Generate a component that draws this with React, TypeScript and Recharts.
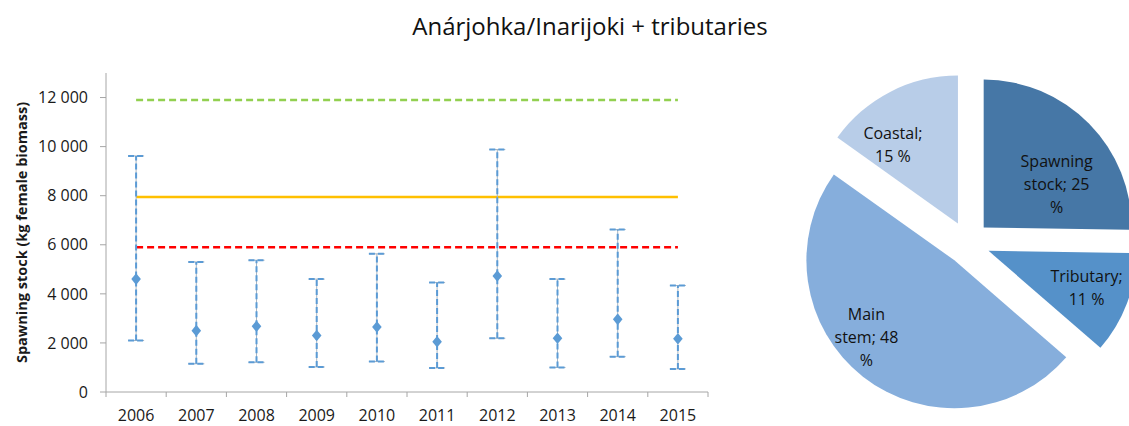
import React from 'react';
import { ComposedChart, Line, XAxis, YAxis, ErrorBar, PieChart, Pie, Cell } from 'recharts';

// ---------- data ----------
const years = ['2006', '2007', '2008', '2009', '2010', '2011', '2012', '2013', '2014', '2015'];
const spawningStock = [4600, 2500, 2680, 2300, 2650, 2050, 4730, 2190, 2960, 2170];
const lowerBound = [2100, 1150, 1210, 1020, 1240, 980, 2190, 1000, 1440, 940];
const upperBound = [9620, 5300, 5370, 4600, 5630, 4460, 9880, 4600, 6620, 4340];
const greenLevel = 11900;
const orangeLevel = 7950;
const redLevel = 5900;
const yTicks = [0, 2000, 4000, 6000, 8000, 10000, 12000];
const yMax = 13000;

const pieNames = ['Spawning stock', 'Tributary', 'Main stem', 'Coastal'];
const pieValues = [25, 11, 48, 15];
const pieColors = ['#4677A6', '#5591C9', '#86AEDC', '#B8CDE8'];

const title = 'Anárjohka/Inarijoki + tributaries';
const yLabel = 'Spawning stock (kg female biomass)';

// ---------- layout ----------
const FONT = '"Open Sans", "Noto Sans", sans-serif';
const CHART_W = 720;
const CHART_H = 426;
const MARGIN = { top: 73, right: 12, bottom: 4, left: 40 };
const Y_W = 66;
const X_H = 30;
const PLOT_W = CHART_W - MARGIN.left - MARGIN.right - Y_W;
const TICK_SIZE = 5;
const TICK_MARGIN = 2;
const AXIS_COLOR = '#A6A6A6';
const BLUE = '#5B9BD5';
const TICK_FONT = 16;

const tableData = years.map((year, i) => ({
  year,
  value: spawningStock[i],
  err: [spawningStock[i] - lowerBound[i], upperBound[i] - spawningStock[i]],
  green: greenLevel,
  orange: orangeLevel,
  red: redLevel,
}));

const fmt = (v: number) => String(v).replace(/\B(?=(\d{3})+(?!\d))/g, ' ');

const XTick = (props: any) => {
  const { x, y, payload, index } = props;
  const step = PLOT_W / years.length;
  const axisY = y - TICK_SIZE - TICK_MARGIN;
  return (
    <g>
      <line x1={x - step / 2} x2={x - step / 2} y1={axisY} y2={axisY + TICK_SIZE} stroke={AXIS_COLOR} strokeWidth={1} />
      {index === years.length - 1 && (
        <line x1={x + step / 2} x2={x + step / 2} y1={axisY} y2={axisY + TICK_SIZE} stroke={AXIS_COLOR} strokeWidth={1} />
      )}
      <text x={x} y={y + 22} textAnchor="middle" fontSize={TICK_FONT} fill="#1a1a1a" fontFamily={FONT}>
        {payload.value}
      </text>
    </g>
  );
};

const Diamond = (props: any) => {
  const { cx, cy } = props;
  if (cx == null || cy == null) return null;
  const w = 4.8;
  const h = 5.8;
  return <path d={`M${cx},${cy - h}L${cx + w},${cy}L${cx},${cy + h}L${cx - w},${cy}Z`} fill={BLUE} stroke="none" />;
};

const YLabel = (props: any) => {
  const vb = props.viewBox || {};
  const cy = (vb.y || 0) + (vb.height || 0) / 2;
  const cx = 21;
  return (
    <text
      x={cx}
      y={cy}
      transform={`rotate(-90 ${cx} ${cy})`}
      textAnchor="middle"
      dominantBaseline="central"
      fontSize={14.5}
      fontWeight="bold"
      fill="#1a1a1a"
      fontFamily={FONT}
    >
      {yLabel}
    </text>
  );
};

// ---------- pie ----------
const PIE_W = 369;
const PIE_H = 426;
const PIE_CX = 208;
const PIE_CY = 243;
const PIE_R = 148;
const EXPLODE = 22;
const RAD = Math.PI / 180;
const pieTotal = pieValues.reduce((a, b) => a + b, 0);
const pieData = pieNames.map((name, i) => ({ name, value: pieValues[i] }));
// label centre offsets from each slice's apex (text placement only)
const labelOffsets = [
  [73, -44],
  [98, 37],
  [-88, 77],
  [-65, -79],
];

// mid angle in recharts convention (start 90, clockwise)
const midAngles = pieValues.map((v, i) => {
  const before = pieValues.slice(0, i).reduce((a, b) => a + b, 0);
  return 90 - ((before + v / 2) / pieTotal) * 360;
});

const wrap = (text: string, max: number) => {
  const words = text.split(' ');
  const lines: string[] = [];
  let cur = '';
  words.forEach((w) => {
    if (!cur) cur = w;
    else if ((cur + ' ' + w).length <= max) cur = cur + ' ' + w;
    else {
      lines.push(cur);
      cur = w;
    }
  });
  if (cur) lines.push(cur);
  return lines;
};

const makeLabel = (slice: number) => (props: any) => {
  const { cx, cy, index, name, value } = props;
  if (index !== slice) return null;
  const x = cx + labelOffsets[slice][0];
  const y = cy + labelOffsets[slice][1];
  const lines = wrap(`${name}; ${value} %`, 9);
  const lh = 23;
  const y0 = y - ((lines.length - 1) * lh) / 2;
  return (
    <text x={x} y={y0} textAnchor="middle" dominantBaseline="central" fontSize={16} fill="#111" fontFamily={FONT}>
      {lines.map((l, k) => (
        <tspan key={k} x={x} y={y0 + k * lh}>
          {l}
        </tspan>
      ))}
    </text>
  );
};

export default function App() {
  return (
    <div
      style={{
        position: 'absolute',
        left: 0,
        top: 0,
        width: 1129,
        height: 426,
        background: '#fff',
        fontFamily: FONT,
        overflow: 'hidden',
      }}
    >
      <div
        style={{
          position: 'absolute',
          left: 590,
          top: 11,
          transform: 'translateX(-50%)',
          whiteSpace: 'nowrap',
          fontSize: 24,
          lineHeight: '30px',
          color: '#111',
        }}
      >
        {title}
      </div>
      <div style={{ position: 'absolute', left: 0, top: 0 }}>
        <ComposedChart width={CHART_W} height={CHART_H} data={tableData} margin={MARGIN}>
          <XAxis
            dataKey="year"
            type="category"
            scale="band"
            height={X_H}
            axisLine={{ stroke: AXIS_COLOR, strokeWidth: 1 }}
            tickLine={false}
            tickSize={TICK_SIZE}
            tickMargin={TICK_MARGIN}
            tick={<XTick />}
            interval={0}
          />
          <YAxis
            type="number"
            domain={[0, yMax]}
            ticks={yTicks}
            width={Y_W}
            axisLine={{ stroke: AXIS_COLOR, strokeWidth: 1 }}
            tickLine={{ stroke: AXIS_COLOR, strokeWidth: 1 }}
            tickSize={6}
            tickMargin={12}
            tickFormatter={fmt}
            tick={{ fontSize: TICK_FONT, fill: '#1a1a1a', fontFamily: FONT }}
            label={<YLabel />}
          />
          <Line dataKey="green" stroke="#92D050" strokeWidth={2.5} strokeDasharray="7 4" dot={false} isAnimationActive={false} />
          <Line dataKey="orange" stroke="#FFC000" strokeWidth={2.5} dot={false} isAnimationActive={false} />
          <Line dataKey="red" stroke="#FF0000" strokeWidth={2.5} strokeDasharray="7 4" dot={false} isAnimationActive={false} />
          <Line dataKey="value" stroke="none" dot={<Diamond />} activeDot={false} isAnimationActive={false}>
            <ErrorBar dataKey="err" direction="y" width={8} stroke="#A9B4BF" strokeWidth={1} />
            <ErrorBar dataKey="err" direction="y" width={8} stroke={BLUE} strokeWidth={2} strokeDasharray="6 3" />
          </Line>
        </ComposedChart>
      </div>
      <div style={{ position: 'absolute', left: 760, top: 0 }}>
        <PieChart width={PIE_W} height={PIE_H} margin={{ top: 0, right: 0, bottom: 0, left: 0 }}>
          {pieValues.map((_, s) => (
            <Pie
              key={s}
              data={pieData}
              dataKey="value"
              nameKey="name"
              cx={PIE_CX + EXPLODE * Math.cos(-midAngles[s] * RAD)}
              cy={PIE_CY + EXPLODE * Math.sin(-midAngles[s] * RAD)}
              outerRadius={PIE_R}
              innerRadius={0}
              startAngle={90}
              endAngle={-270}
              stroke="none"
              label={makeLabel(s)}
              labelLine={false}
              isAnimationActive={false}
            >
              {pieData.map((_, i) => (
                <Cell key={i} fill={i === s ? pieColors[i] : 'transparent'} stroke="none" />
              ))}
            </Pie>
          ))}
        </PieChart>
      </div>
    </div>
  );
}
